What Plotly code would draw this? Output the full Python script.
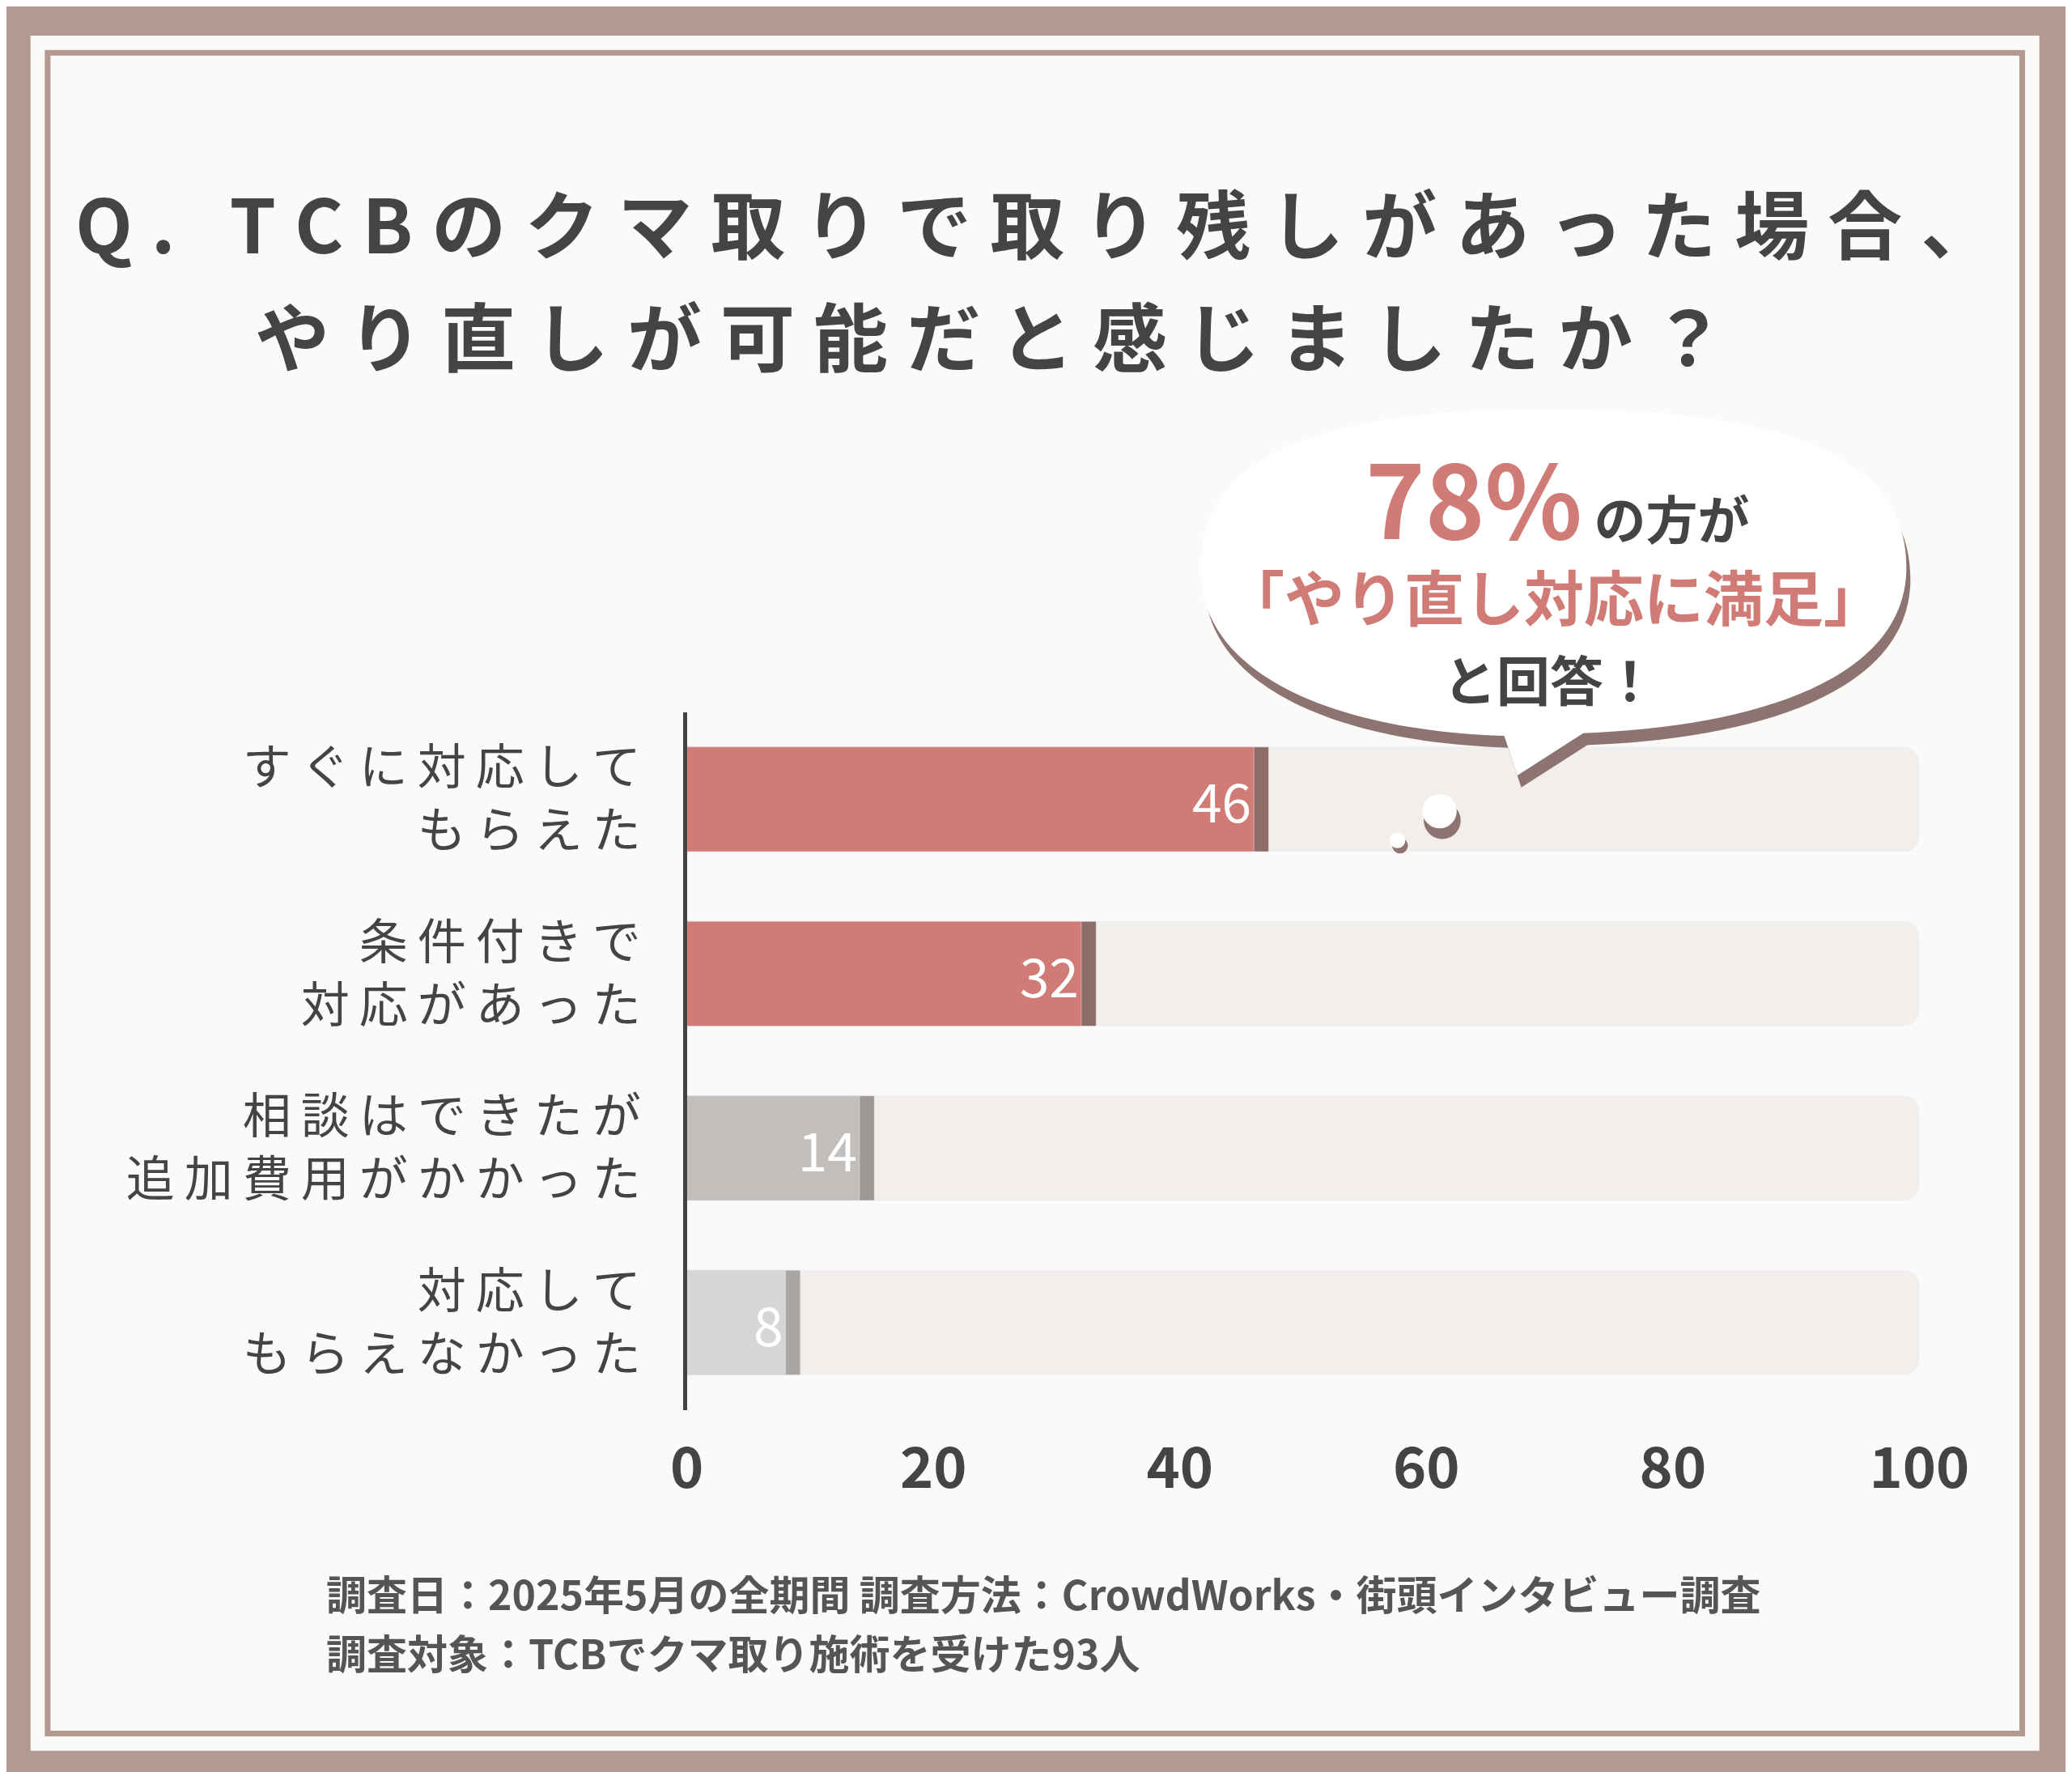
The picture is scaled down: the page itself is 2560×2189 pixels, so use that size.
import plotly.graph_objects as go

categories = ["すぐに対応して<br>もらえた", "条件付きで<br>対応があった",
              "相談はできたが<br>追加費用がかかった", "対応して<br>もらえなかった"]
values = [46, 32, 14, 8]
bar_colors = ["#d07b75", "#d07b75", "#c2bebc", "#d8d6d5"]
shadow_colors = ["#8e6c68", "#8e6c68", "#9d9896", "#aaa6a4"]
tick_vals = [0, 20, 40, 60, 80, 100]

W, H = 2560, 2189
FONT = "Noto Sans CJK JP"


def px(x):
    # compensate for the slight horizontal squeeze seen in the rendered page
    return ((x - 38) / 0.97 + 22) / 1568


def py(y):
    return 1 - y / 1341


def spaced(s, gap="\u2005"):
    return "<br>".join(gap.join(line) for line in s.split("<br>"))


labels = [spaced(c, "\u2009") for c in categories]

fig = go.Figure()

# background tracks
fig.add_trace(go.Bar(y=labels, x=[100] * 4, orientation="h", width=0.6,
                     marker=dict(color="#f1eeec", cornerradius=20),
                     hoverinfo="skip", showlegend=False))
# shadow edge
fig.add_trace(go.Bar(y=labels, x=[v + 1.2 for v in values], orientation="h", width=0.6,
                     marker=dict(color=shadow_colors, cornerradius=20),
                     hoverinfo="skip", showlegend=False))
fig.add_trace(go.Bar(y=labels, x=values, orientation="h", width=0.6,
                     marker=dict(color=bar_colors, cornerradius=20),
                     text=[str(v) for v in values], textposition="inside",
                     insidetextanchor="end",
                     textfont=dict(family=FONT, size=66, color="white"),
                     showlegend=False))

fig.update_layout(
    width=W, height=H, barmode="overlay",
    paper_bgcolor="#b39a90", plot_bgcolor="rgba(0,0,0,0)",
    margin=dict(l=0, r=0, t=0, b=0),
    xaxis=dict(domain=[px(520), px(1455)], range=[0, 100], tickvals=tick_vals,
               showgrid=False, zeroline=False, ticks="", ticklabelstandoff=25,
               tickfont=dict(family=FONT, size=70, color="#444", weight="bold")),
    yaxis=dict(domain=[py(1062), py(534)], range=[3.5, -0.5],
               categoryorder="array", categoryarray=labels,
               showline=True, linecolor="#444", linewidth=5, ticks="",
               ticklabelstandoff=40,
               tickfont=dict(family=FONT, size=60, color="#444")),
)

shapes = [
    dict(type="rect", xref="paper", yref="paper", x0=px(22), x1=px(1546),
         y0=py(1320), y1=py(22), fillcolor="#fbfaf9", line=dict(width=0), layer="below"),
    dict(type="rect", xref="paper", yref="paper", x0=px(35), x1=px(1533),
         y0=py(1307), y1=py(35), fillcolor="rgba(0,0,0,0)",
         line=dict(color="#b39a90", width=7), layer="below"),
]


def P(x, y):
    return f"{px(x):.4f},{py(y):.4f}"


def bubble(ox, oy):
    pts = [(910, 430), (905, 330), (1020, 305), (1175, 305), (1330, 305), (1450, 330),
           (1445, 430), (1440, 510), (1330, 545), (1200, 550)]
    q = [P(x + ox, y + oy) for x, y in pts]
    return ("M " + q[0] + " C " + q[1] + " " + q[2] + " " + q[3] +
            " C " + q[4] + " " + q[5] + " " + q[6] +
            " C " + q[7] + " " + q[8] + " " + q[9] +
            " L " + P(1150 + ox, 582 + oy) + " L " + P(1140 + ox, 552 + oy) +
            " C " + P(1010 + ox, 548 + oy) + " " + P(912 + ox, 505 + oy) + " " + q[0] + " Z")


shapes.append(dict(type="path", xref="paper", yref="paper", path=bubble(3, 9),
                   fillcolor="#8e7470", line=dict(width=0)))
shapes.append(dict(type="path", xref="paper", yref="paper", path=bubble(0, 0),
                   fillcolor="white", line=dict(width=0)))
for cx, cy, r, col in [(1093, 616, 14, "#8e7470"), (1091, 609, 13, "white"),
                       (1061, 635, 6, "#8e7470"), (1059, 631, 6, "white")]:
    shapes.append(dict(type="circle", xref="paper", yref="paper",
                       x0=px(cx - r), x1=px(cx + r), y0=py(cy + r), y1=py(cy - r),
                       fillcolor=col, line=dict(width=0)))
fig.update_layout(shapes=shapes)

ann = [
    (px(784), py(162), spaced("Q. TCBのクマ取りで取り残しがあった場合、"), 92, "#444", "center"),
    (px(750), py(247), spaced("やり直しが可能だと感じましたか？"), 92, "#444", "center"),
    (px(1180), py(370), "<span style='font-size:125px;color:#d07b75'>78%</span> の方が", 64, "#444", "center"),
    (px(1178), py(445), "「やり直し対応に満足」", 74, "#d07b75", "center"),
    (px(1175), py(508), "と回答！", 66, "#444", "center"),
    (px(245), py(1200), "調査日：2025年5月の全期間 調査方法：CrowdWorks・街頭インタビュー調査", 50, "#555", "left"),
    (px(245), py(1245), "調査対象：TCBでクマ取り施術を受けた93人", 50, "#555", "left"),
]
for x, y, t, s, c, a in ann:
    fig.add_annotation(xref="paper", yref="paper", x=x, y=y, text=t, showarrow=False,
                       xanchor=a, yanchor="middle",
                       font=dict(family=FONT, size=s, color=c, weight="bold"))

fig.write_html("out.html")
